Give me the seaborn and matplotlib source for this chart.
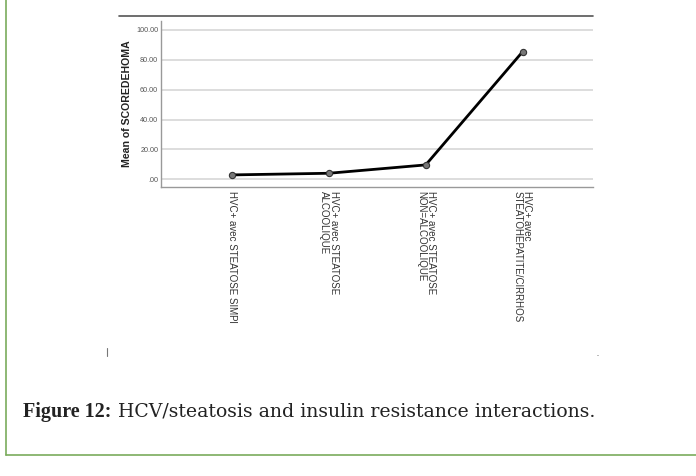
import matplotlib
matplotlib.use("Agg")
import matplotlib.pyplot as plt
import seaborn as sns
import pandas as pd
from matplotlib.lines import Line2D

categories = [
    "HVC+ avec STEATOSE SIMPl",
    "HVC+ avec STEATOSE\nALCOOLIQUE",
    "HVC+ avec STEATOSE\nNON=ALCOOLIQUE",
    "HVC+ avec\nSTEATOHEPATITE/CIRRHOS",
]
values = [2.9, 4.0, 9.6, 85.5]
yticks = [0, 20, 40, 60, 80, 100]
ytick_labels = [".00", "20.00", "40.00", "60.00", "80.00", "100.00"]

sns.set_style("white")
plt.rcParams["font.family"] = ["Liberation Sans", "DejaVu Sans"]

W, H = 696, 476
fig = plt.figure(figsize=(W / 100, H / 100), dpi=100)
fig.patch.set_facecolor("white")

ax = fig.add_axes([161 / W, 1 - 187 / H, (593 - 161) / W, (187 - 21) / H])
df = pd.DataFrame({"cat": categories, "val": values})
sns.lineplot(data=df, x="cat", y="val", ax=ax, color="black", linewidth=2.0,
             marker="o", markersize=4.5, markerfacecolor="#777777",
             markeredgecolor="#333333", markeredgewidth=0.8, sort=False)

ax.set_xlim(-0.73, 3.725)
ax.set_ylim(-5.2, 106)
ax.set_yticks(yticks)
ax.set_yticklabels(ytick_labels, fontsize=5.2, color="#555555")
ax.yaxis.grid(True, color="#dddddd", linewidth=1.4)
ax.set_axisbelow(True)
ax.tick_params(axis="y", length=0, pad=2)
ax.set_xticks(range(len(categories)))
ax.set_xticklabels(categories, rotation=270, fontsize=7.0, color="#333333",
                   va="top", ha="center", linespacing=0.95,
                   multialignment="left")
ax.tick_params(axis="x", length=0, pad=3)
ax.set_xlabel("")
ax.set_ylabel("Mean of SCOREDEHOMA", fontsize=7.6, fontweight="bold",
              color="#222222", labelpad=3)
for s in ["top", "right"]:
    ax.spines[s].set_visible(False)
for s in ["left", "bottom"]:
    ax.spines[s].set_color("#999999")
    ax.spines[s].set_linewidth(1.0)

# chart frame top line
fig.add_artist(Line2D([119 / W, 593 / W], [1 - 16 / H, 1 - 16 / H],
                      color="#555555", linewidth=1.2))
# small artifacts
fig.add_artist(Line2D([107 / W, 107 / W], [1 - 348 / H, 1 - 356 / H],
                      color="#777777", linewidth=0.8))
fig.add_artist(Line2D([597 / W, 598 / W], [1 - 355 / H, 1 - 355 / H],
                      color="#999999", linewidth=0.6))

# green frame
fig.add_artist(Line2D([5.5 / W, 5.5 / W], [1.0, 1 - 455 / H],
                      color="#7aab5c", linewidth=1.2))
fig.add_artist(Line2D([5.5 / W, 1.0], [1 - 455 / H, 1 - 455 / H],
                      color="#7aab5c", linewidth=1.2))

# caption
fig.text(23 / W, 1 - 412 / H, "Figure 12:", fontsize=14.5, fontweight="bold",
         family=["Liberation Serif", "DejaVu Serif"], color="#222222",
         va="center", ha="left")
fig.text(118 / W, 1 - 412 / H, "HCV/steatosis and insulin resistance interactions.",
         fontsize=13.6, family=["DejaVu Serif"],
         color="#222222", va="center", ha="left")

fig.savefig("out.png", dpi=100, facecolor="white")
